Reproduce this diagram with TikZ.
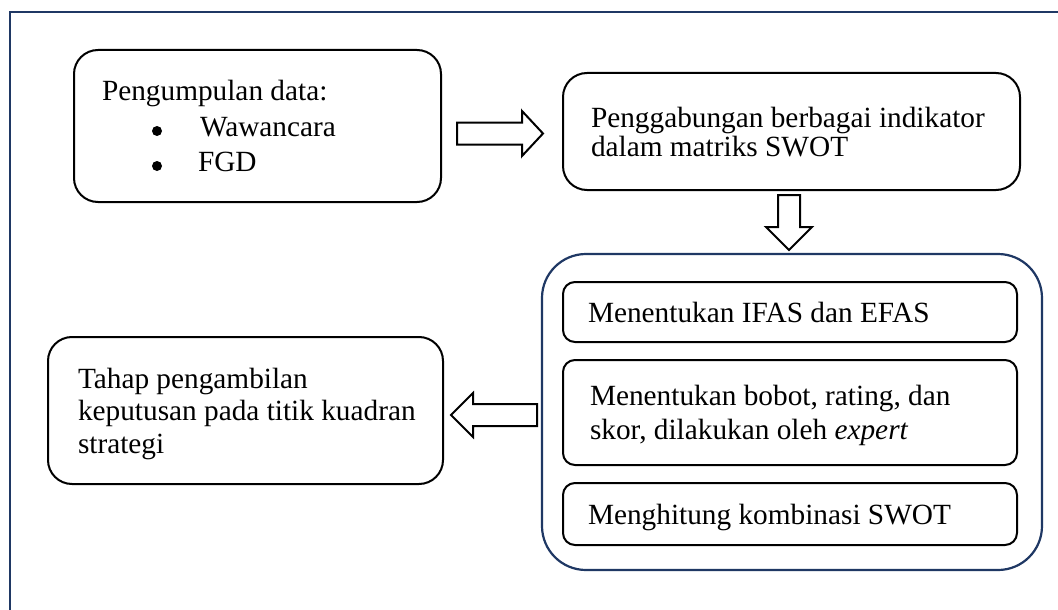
\documentclass[tikz,border=0pt]{standalone}
\usepackage{fontspec}
\setmainfont{Liberation Serif}
\definecolor{navyline}{HTML}{1F3864}
\begin{document}
\begin{tikzpicture}[x=1pt,y=-1pt,
  box/.style={draw=black, line width=2pt, rounded corners=24pt, inner sep=0pt, outer sep=0pt},
  ibox/.style={draw=black, line width=2pt, rounded corners=12pt, inner sep=0pt, outer sep=0pt},
  group/.style={draw=navyline, line width=2.2pt, rounded corners=44pt, inner sep=0pt, outer sep=0pt},
  txt/.style={anchor=base west, inner sep=0pt, outer sep=0pt, font=\fontsize{29.3}{34}\selectfont},
  bul/.style={circle, fill=black, inner sep=0pt, minimum size=10pt},
  barrow/.style={draw=black, line width=2pt, fill=white, line join=miter}]
\useasboundingbox (0,0) rectangle (1058,610);
\fill[white] (0,0) rectangle (1058,610);
% outer frame
\draw[navyline, line width=2.2pt] (10,610) -- (10,12) -- (1058,12);

% boxes
\node[box, minimum width=367pt, minimum height=152pt] (collect) at (257.5,126) {};
\node[box, minimum width=457pt, minimum height=117pt] (merge) at (791.5,131.5) {};
\node[group, minimum width=500pt, minimum height=316pt] (grp) at (792,412) {};
\node[ibox, minimum width=454pt, minimum height=60pt] (ifas) at (790,312) {};
\node[ibox, minimum width=454pt, minimum height=105pt] (bobot) at (790,412.5) {};
\node[ibox, minimum width=454pt, minimum height=62pt] (komb) at (790,514) {};
\node[box, minimum width=395pt, minimum height=147pt] (tahap) at (245.5,410.5) {};

% texts
\node[txt] (t1) at (102,100) {Pengumpulan data:};
\node[bul] (b1) at (157,131) {};
\node[txt] (t2) at (200,136) {Wawancara};
\node[bul] (b2) at (157,166) {};
\node[txt] (t3) at (198,171) {FGD};

\node[txt] (t4) at (591,127) {Penggabungan berbagai indikator};
\node[txt] (t5) at (591,156) {dalam matriks SWOT};

\node[txt] (t6) at (588,322) {Menentukan IFAS dan EFAS};
\node[txt] (t7) at (590,405) {Menentukan bobot, rating, dan};
\node[txt] (t8) at (590,439) {skor, dilakukan oleh \textit{expert}};
\node[txt] (t9) at (588,524) {Menghitung kombinasi SWOT};

\node[txt] (t10) at (78,388) {Tahap pengambilan};
\node[txt] (t11) at (78,420) {keputusan pada titik kuadran};
\node[txt] (t12) at (78,453) {strategi};

% block arrows
\draw[barrow] (457,122.5) -- (522,122.5) -- (522,111) -- (543,133.5) -- (522,156) -- (522,144.5) -- (457,144.5) -- cycle;
\draw[barrow] (778,195) -- (800,195) -- (800,227) -- (812,227) -- (789,250) -- (766,227) -- (778,227) -- cycle;
\draw[barrow] (537,404) -- (473,404) -- (473,393) -- (451,415) -- (473,437) -- (473,426) -- (537,426) -- cycle;
\end{tikzpicture}
\end{document}
